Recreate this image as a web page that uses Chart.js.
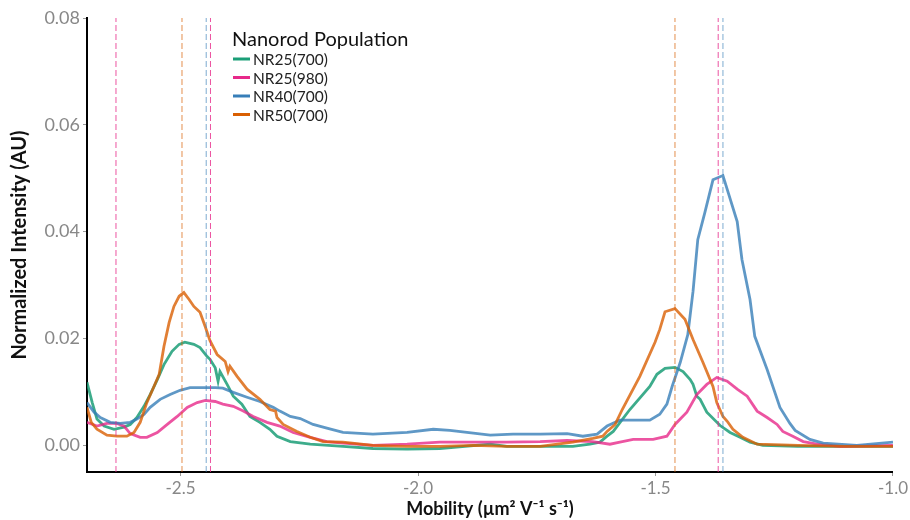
<!DOCTYPE html>
<html>
<head>
<meta charset="utf-8">
<script src="https://cdn.jsdelivr.net/npm/chart.js@4.4.1/dist/chart.umd.min.js"></script>
<style>
  html, body { margin: 0; padding: 0; background: #fff; }
  #wrap { width: 910px; height: 520px; position: relative; }
</style>
</head>
<body>
<div id="wrap"><canvas id="mobilityChart"></canvas></div>
<script>
// --- Data ---
const seriesNames = ['NR25(700)', 'NR25(980)', 'NR40(700)', 'NR50(700)'];

const nr25_700_mob = [-2.697, -2.686, -2.676, -2.661, -2.640, -2.619, -2.606, -2.592, -2.577, -2.564, -2.549, -2.535, -2.518, -2.503, -2.491, -2.472, -2.459, -2.444, -2.438, -2.427, -2.421, -2.417, -2.402, -2.389, -2.371, -2.354, -2.333, -2.312, -2.297, -2.269, -2.227, -2.158, -2.095, -2.023, -1.954, -1.848, -1.813, -1.743, -1.674, -1.638, -1.617, -1.602, -1.589, -1.554, -1.512, -1.497, -1.480, -1.459, -1.442, -1.427, -1.421, -1.413, -1.406, -1.392, -1.364, -1.343, -1.322, -1.301, -1.274, -1.200, -1.000];
const nr25_700_int = [0.0118, 0.0080, 0.0049, 0.0036, 0.0030, 0.0034, 0.0039, 0.0052, 0.0073, 0.0095, 0.0123, 0.0151, 0.0176, 0.0189, 0.0193, 0.0189, 0.0183, 0.0166, 0.0161, 0.0145, 0.0120, 0.0138, 0.0114, 0.0092, 0.0077, 0.0054, 0.0043, 0.0030, 0.0017, 0.0007, 0.0002, -0.0002, -0.0006, -0.0007, -0.0006, 0.0002, -0.0002, -0.0002, -0.0002, 0.0002, 0.0006, 0.0017, 0.0026, 0.0067, 0.0110, 0.0133, 0.0144, 0.0146, 0.0138, 0.0123, 0.0114, 0.0092, 0.0086, 0.0062, 0.0037, 0.0024, 0.0015, 0.0006, 0.0000, -0.0002, -0.0002];

const nr25_980_mob = [-2.697, -2.676, -2.655, -2.634, -2.619, -2.606, -2.585, -2.571, -2.549, -2.528, -2.507, -2.486, -2.465, -2.448, -2.427, -2.411, -2.389, -2.368, -2.347, -2.318, -2.291, -2.263, -2.227, -2.192, -2.158, -2.095, -2.023, -1.954, -1.884, -1.813, -1.743, -1.686, -1.632, -1.596, -1.575, -1.547, -1.505, -1.476, -1.459, -1.434, -1.413, -1.392, -1.371, -1.349, -1.328, -1.307, -1.286, -1.265, -1.244, -1.232, -1.211, -1.189, -1.160, -1.111, -1.000];
const nr25_980_int = [0.0043, 0.0036, 0.0041, 0.0041, 0.0036, 0.0022, 0.0015, 0.0015, 0.0024, 0.0039, 0.0054, 0.0071, 0.0080, 0.0084, 0.0082, 0.0077, 0.0073, 0.0064, 0.0054, 0.0043, 0.0036, 0.0024, 0.0015, 0.0007, 0.0004, 0.0000, 0.0002, 0.0006, 0.0006, 0.0006, 0.0007, 0.0009, 0.0007, 0.0002, 0.0006, 0.0011, 0.0011, 0.0017, 0.0039, 0.0062, 0.0095, 0.0114, 0.0127, 0.0120, 0.0105, 0.0092, 0.0064, 0.0052, 0.0039, 0.0026, 0.0017, 0.0007, 0.0002, -0.0002, 0.0000];

const nr40_700_mob = [-2.697, -2.682, -2.669, -2.648, -2.627, -2.606, -2.592, -2.577, -2.564, -2.543, -2.522, -2.501, -2.480, -2.459, -2.427, -2.411, -2.389, -2.360, -2.333, -2.305, -2.291, -2.269, -2.248, -2.221, -2.192, -2.158, -2.095, -2.023, -1.968, -1.933, -1.897, -1.848, -1.800, -1.743, -1.686, -1.653, -1.623, -1.602, -1.575, -1.512, -1.491, -1.476, -1.465, -1.448, -1.432, -1.421, -1.411, -1.396, -1.379, -1.358, -1.328, -1.318, -1.301, -1.291, -1.265, -1.238, -1.217, -1.206, -1.175, -1.147, -1.076, -1.000];
const nr40_700_int = [0.0080, 0.0062, 0.0052, 0.0043, 0.0041, 0.0043, 0.0049, 0.0058, 0.0071, 0.0086, 0.0095, 0.0103, 0.0108, 0.0108, 0.0108, 0.0107, 0.0099, 0.0090, 0.0082, 0.0071, 0.0064, 0.0054, 0.0050, 0.0039, 0.0032, 0.0024, 0.0021, 0.0024, 0.0030, 0.0028, 0.0024, 0.0019, 0.0021, 0.0021, 0.0022, 0.0017, 0.0021, 0.0036, 0.0047, 0.0047, 0.0058, 0.0077, 0.0110, 0.0155, 0.0207, 0.0288, 0.0385, 0.0436, 0.0497, 0.0505, 0.0419, 0.0348, 0.0273, 0.0204, 0.0142, 0.0071, 0.0041, 0.0028, 0.0011, 0.0004, 0.0000, 0.0006];

const nr50_700_mob = [-2.697, -2.688, -2.676, -2.655, -2.634, -2.613, -2.598, -2.585, -2.571, -2.556, -2.545, -2.535, -2.524, -2.514, -2.503, -2.493, -2.482, -2.472, -2.459, -2.448, -2.438, -2.423, -2.406, -2.400, -2.396, -2.381, -2.360, -2.333, -2.312, -2.300, -2.297, -2.284, -2.255, -2.227, -2.200, -2.158, -2.095, -2.023, -1.954, -1.884, -1.813, -1.743, -1.674, -1.632, -1.611, -1.602, -1.585, -1.570, -1.533, -1.501, -1.491, -1.480, -1.459, -1.438, -1.421, -1.400, -1.379, -1.371, -1.358, -1.349, -1.337, -1.316, -1.286, -1.200, -1.100, -1.000];
const nr50_700_int = [0.0071, 0.0043, 0.0030, 0.0019, 0.0017, 0.0017, 0.0024, 0.0043, 0.0080, 0.0110, 0.0133, 0.0185, 0.0230, 0.0260, 0.0279, 0.0286, 0.0273, 0.0260, 0.0249, 0.0222, 0.0196, 0.0170, 0.0157, 0.0138, 0.0148, 0.0129, 0.0105, 0.0086, 0.0067, 0.0064, 0.0052, 0.0039, 0.0026, 0.0015, 0.0007, 0.0006, 0.0000, -0.0002, -0.0002, 0.0000, -0.0002, -0.0002, 0.0006, 0.0013, 0.0017, 0.0026, 0.0039, 0.0067, 0.0129, 0.0193, 0.0217, 0.0250, 0.0256, 0.0236, 0.0198, 0.0155, 0.0110, 0.0080, 0.0054, 0.0045, 0.0030, 0.0015, 0.0002, 0.0000, -0.0002, -0.0002];

// peak positions (dashed markers)
const nr25_980_peaks = [-2.636, -2.437, -1.368];
const nr40_700_peaks = [-2.446, -1.358];
const nr50_700_peaks = [-2.497, -1.459];

const xTicks = [-2.5, -2.0, -1.5, -1.0];
const yTicks = [0.00, 0.02, 0.04, 0.06, 0.08];
const xRange = [-2.697, -1.0];
const yRange = [-0.005, 0.08];

// --- Styles ---
const lineColors = ['rgba(27,158,119,0.85)', 'rgba(231,41,138,0.8)', 'rgba(55,126,184,0.8)', 'rgba(217,95,2,0.8)'];
const legendColors = ['#1B9E77', '#E7298A', '#377EB8', '#D95F02'];

function toPoints(xs, ys) {
    return xs.map((x, i) => ({ x: x, y: ys[i] }));
}

function peakLine(x, color) {
    return {
        label: '',
        data: [{ x: x, y: yRange[0] }, { x: x, y: yRange[1] }],
        borderColor: color,
        borderWidth: 1,
        borderDash: [6, 3],
        pointRadius: 0,
        order: 0
    };
}

const curveDatasets = [
    [nr25_700_mob, nr25_700_int],
    [nr25_980_mob, nr25_980_int],
    [nr40_700_mob, nr40_700_int],
    [nr50_700_mob, nr50_700_int]
].map(([xs, ys], i) => ({
    label: seriesNames[i],
    data: toPoints(xs, ys),
    borderColor: lineColors[i],
    borderWidth: 2.8,
    pointRadius: 0,
    tension: 0,
    order: 14 - i
}));

const peakDatasets = [
    ...nr25_980_peaks.map(x => peakLine(x, 'rgba(231,41,138,0.8)')),
    ...nr40_700_peaks.map(x => peakLine(x, 'rgba(55,126,184,0.65)')),
    ...nr50_700_peaks.map(x => peakLine(x, 'rgba(217,95,2,0.7)'))
];

// legend drawn inside the plot area
const insideLegend = {
    id: 'insideLegend',
    afterDraw(chart) {
        const ctx = chart.ctx;
        const left = 232, top = 40;
        ctx.save();
        ctx.textBaseline = 'middle';
        ctx.textAlign = 'left';
        ctx.fillStyle = '#111';
        ctx.font = '20px Lato';
        ctx.fillText('Nanorod Population', left, top);
        ctx.font = '15.5px Lato';
        seriesNames.forEach((name, i) => {
            const y = top + 19 + i * 18.5;
            ctx.strokeStyle = legendColors[i];
            ctx.lineWidth = 3;
            ctx.beginPath();
            ctx.moveTo(left + 1, y);
            ctx.lineTo(left + 18, y);
            ctx.stroke();
            ctx.fillStyle = '#222';
            ctx.fillText(name, left + 21, y + 1);
        });
        ctx.restore();
    }
};

const ctx = document.getElementById('mobilityChart').getContext('2d');
const chart = new Chart(ctx, {
    type: 'line',
    data: { datasets: [...curveDatasets, ...peakDatasets] },
    options: {
        responsive: true,
        maintainAspectRatio: false,
        animation: false,
        layout: { padding: { top: 18, right: 17, left: 0, bottom: 0 } },
        plugins: {
            legend: { display: false },
            tooltip: { enabled: false }
        },
        scales: {
            x: {
                type: 'linear',
                min: xRange[0],
                max: xRange[1],
                afterBuildTicks: (scale) => { scale.ticks = xTicks.map(v => ({ value: v })); },
                afterFit: (scale) => { scale.height = 48; },
                ticks: {
                    callback: (v) => v.toFixed(1),
                    color: '#888',
                    font: { family: 'Lato', size: 17 },
                    padding: 2,
                    maxRotation: 0
                },
                grid: { drawOnChartArea: false, drawTicks: true, tickLength: 4, color: '#999' },
                border: { display: true, color: '#000', width: 2 },
                title: {
                    display: true,
                    text: 'Mobility (µm² V⁻¹ s⁻¹)',
                    color: '#111',
                    font: { family: 'Lato', size: 18, weight: 'bold' },
                    padding: { top: 2, bottom: 0 }
                }
            },
            y: {
                type: 'linear',
                min: yRange[0],
                max: yRange[1],
                afterBuildTicks: (scale) => { scale.ticks = yTicks.map(v => ({ value: v })); },
                afterFit: (scale) => { scale.width = 87; },
                ticks: {
                    callback: (v) => v.toFixed(2),
                    color: '#888',
                    font: { family: 'Lato', size: 18 },
                    padding: 3
                },
                grid: { drawOnChartArea: false, drawTicks: true, tickLength: 4, color: '#999' },
                border: { display: true, color: '#000', width: 2 },
                title: {
                    display: true,
                    text: 'Normalized Intensity (AU)',
                    color: '#111',
                    font: { family: 'Lato', size: 20, weight: 'bold' },
                    padding: { top: 8, bottom: 0 }
                }
            }
        }
    },
    plugins: [insideLegend]
});
</script>
</body>
</html>
